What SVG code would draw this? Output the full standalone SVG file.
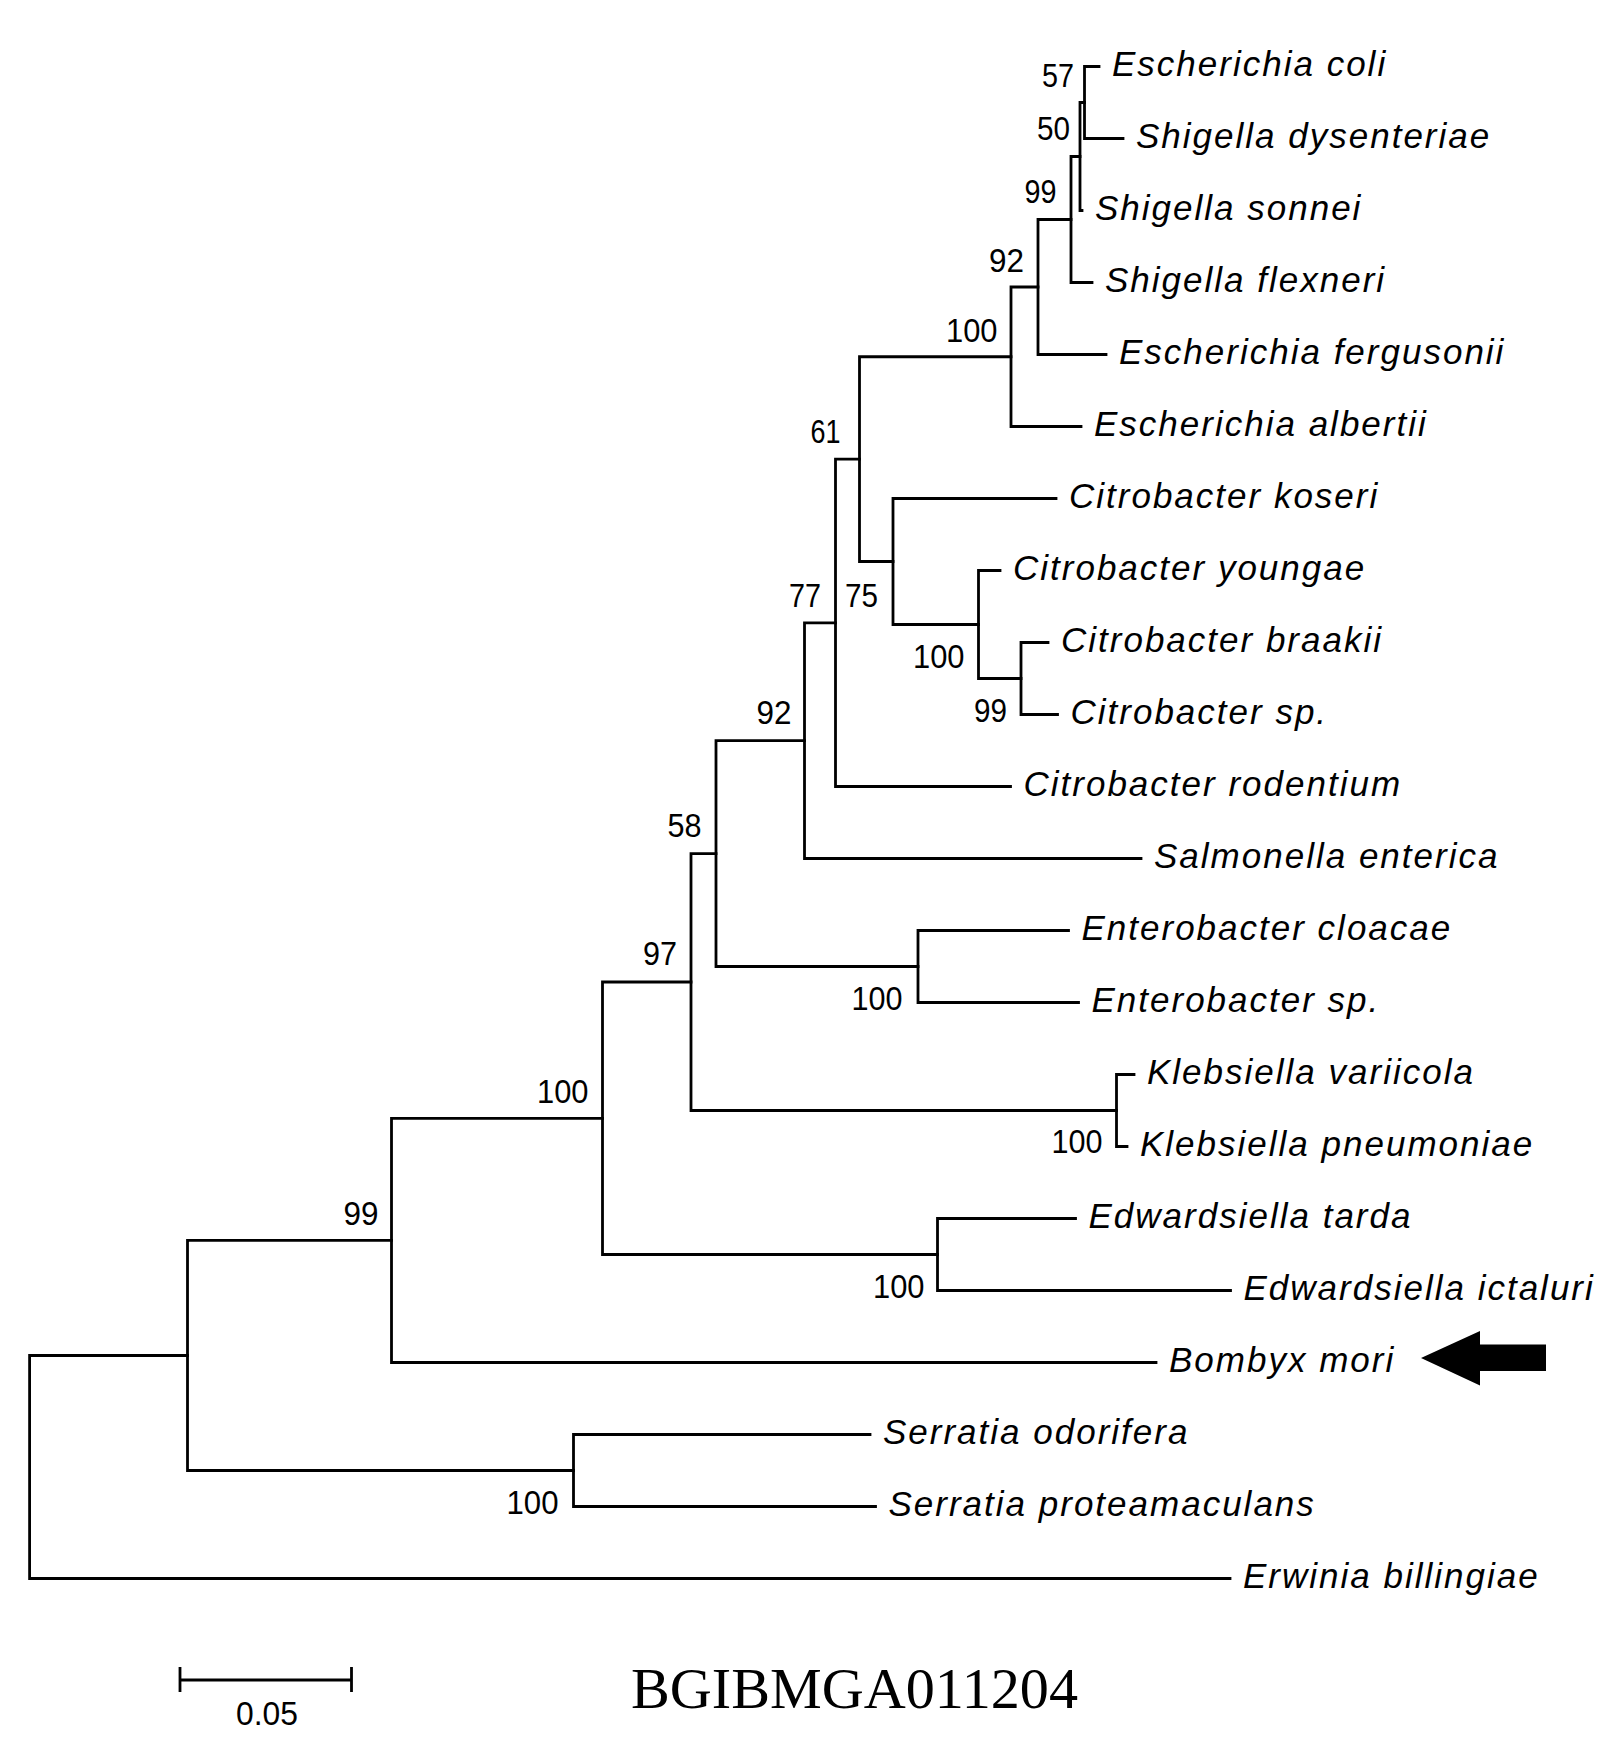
<svg xmlns="http://www.w3.org/2000/svg" width="1615" height="1743" viewBox="0 0 1615 1743">
<style>
.br{fill:none;stroke:#000;stroke-width:2.8;stroke-linecap:square;stroke-linejoin:miter}
.sp{font-family:"Liberation Sans",Arial,sans-serif;font-style:italic;font-size:35px;letter-spacing:2px;fill:#000}
.bs{font-family:"Liberation Sans",Arial,sans-serif;font-size:34px;fill:#000;text-anchor:end}
.ttl{font-family:"Liberation Serif","Times New Roman",serif;font-size:58px;fill:#000}
</style>
<rect width="1615" height="1743" fill="#fff"/>
<g id="connectors">
<path class="br" d="M1099 66.5H1084.5V138.5H1123"/>
<path class="br" d="M1084.5 102.5H1080V210.5H1082"/>
<path class="br" d="M1080 156.5H1071V282.5H1092"/>
<path class="br" d="M1071 219.5H1038V354.5H1106"/>
<path class="br" d="M1038 287H1011V426.5H1081"/>
<path class="br" d="M1048 642.5H1021V714.5H1057.5"/>
<path class="br" d="M1000 570.5H978.5V678.5H1021"/>
<path class="br" d="M1056 498.5H893V624.5H978.5"/>
<path class="br" d="M1011 356.75H859.5V561.5H893"/>
<path class="br" d="M859.5 459.1H835.5V786.5H1010.5"/>
<path class="br" d="M835.5 622.8H804.5V858.5H1141"/>
<path class="br" d="M1068.5 930.5H918V1002.5H1078.5"/>
<path class="br" d="M804.5 740.7H716V966.5H918"/>
<path class="br" d="M1134 1074.5H1116.5V1146.5H1127"/>
<path class="br" d="M716 853.6H691V1110.5H1116.5"/>
<path class="br" d="M1075.5 1218.5H937.5V1290.5H1230.5"/>
<path class="br" d="M691 982H602.5V1254.5H937.5"/>
<path class="br" d="M602.5 1118.3H391.5V1362.5H1156"/>
<path class="br" d="M870 1434.5H573.5V1506.5H875.5"/>
<path class="br" d="M391.5 1240.4H187.5V1470.5H573.5"/>
<path class="br" d="M187.5 1355.5H29.6V1578.5H1230"/>
</g>
<g id="taxa">
<g id="t-ecoli"><text class="sp" x="1112" y="75.5">Escherichia coli</text></g>
<g id="t-sdys"><text class="sp" x="1136" y="147.5">Shigella dysenteriae</text></g>
<g id="t-ssonnei"><text class="sp" x="1095" y="219.5">Shigella sonnei</text></g>
<g id="t-sflex"><text class="sp" x="1105" y="291.5">Shigella flexneri</text></g>
<g id="t-eferg"><text class="sp" x="1119" y="363.5">Escherichia fergusonii</text></g>
<g id="t-ealb"><text class="sp" x="1094" y="435.5">Escherichia albertii</text></g>
<g id="t-ckos"><text class="sp" x="1069" y="507.5">Citrobacter koseri</text></g>
<g id="t-cyoung"><text class="sp" x="1013" y="579.5">Citrobacter youngae</text></g>
<g id="t-cbraak"><text class="sp" x="1061" y="651.5">Citrobacter braakii</text></g>
<g id="t-csp"><text class="sp" x="1070.5" y="723.5">Citrobacter sp.</text></g>
<g id="t-crod"><text class="sp" x="1023.5" y="795.5">Citrobacter rodentium</text></g>
<g id="t-salm"><text class="sp" x="1154" y="867.5">Salmonella enterica</text></g>
<g id="t-eclo"><text class="sp" x="1081.5" y="939.5">Enterobacter cloacae</text></g>
<g id="t-esp"><text class="sp" x="1091.5" y="1011.5">Enterobacter sp.</text></g>
<g id="t-kvar"><text class="sp" x="1147" y="1083.5">Klebsiella variicola</text></g>
<g id="t-kpn"><text class="sp" x="1140" y="1155.5">Klebsiella pneumoniae</text></g>
<g id="t-etar"><text class="sp" x="1088.5" y="1227.5">Edwardsiella tarda</text></g>
<g id="t-eict"><text class="sp" x="1243.5" y="1299.5">Edwardsiella ictaluri</text></g>
<g id="t-bmori"><text class="sp" x="1169" y="1371.5">Bombyx mori</text></g>
<g id="t-sodo"><text class="sp" x="883" y="1443.5">Serratia odorifera</text></g>
<g id="t-spro"><text class="sp" x="888.5" y="1515.5">Serratia proteamaculans</text></g>
<g id="t-erw"><text class="sp" x="1243" y="1587.5">Erwinia billingiae</text></g>
</g>
<g id="bootstrap">
<g id="b-57"><text class="bs" x="1074" y="87" textLength="32" lengthAdjust="spacingAndGlyphs">57</text></g>
<g id="b-50"><text class="bs" x="1070" y="140" textLength="33" lengthAdjust="spacingAndGlyphs">50</text></g>
<g id="b-99a"><text class="bs" x="1056.5" y="203" textLength="32" lengthAdjust="spacingAndGlyphs">99</text></g>
<g id="b-92a"><text class="bs" x="1024" y="272" textLength="35" lengthAdjust="spacingAndGlyphs">92</text></g>
<g id="b-100a"><text class="bs" x="997.5" y="341.5" textLength="51.5" lengthAdjust="spacingAndGlyphs">100</text></g>
<g id="b-61"><text class="bs" x="840.5" y="443" textLength="30" lengthAdjust="spacingAndGlyphs">61</text></g>
<g id="b-77"><text class="bs" x="821" y="606.5" textLength="32" lengthAdjust="spacingAndGlyphs">77</text></g>
<g id="b-75"><text class="bs" x="878" y="606.5" textLength="33" lengthAdjust="spacingAndGlyphs">75</text></g>
<g id="b-100b"><text class="bs" x="964.5" y="668" textLength="51.5" lengthAdjust="spacingAndGlyphs">100</text></g>
<g id="b-99b"><text class="bs" x="1007" y="722" textLength="33" lengthAdjust="spacingAndGlyphs">99</text></g>
<g id="b-92b"><text class="bs" x="791.5" y="724" textLength="35" lengthAdjust="spacingAndGlyphs">92</text></g>
<g id="b-58"><text class="bs" x="701.5" y="836.5" textLength="34" lengthAdjust="spacingAndGlyphs">58</text></g>
<g id="b-97"><text class="bs" x="677" y="965" textLength="34" lengthAdjust="spacingAndGlyphs">97</text></g>
<g id="b-100c"><text class="bs" x="902.5" y="1010" textLength="51" lengthAdjust="spacingAndGlyphs">100</text></g>
<g id="b-100d"><text class="bs" x="1102.5" y="1153" textLength="51" lengthAdjust="spacingAndGlyphs">100</text></g>
<g id="b-100e"><text class="bs" x="588.5" y="1102.5" textLength="51.5" lengthAdjust="spacingAndGlyphs">100</text></g>
<g id="b-99c"><text class="bs" x="378.5" y="1225" textLength="35" lengthAdjust="spacingAndGlyphs">99</text></g>
<g id="b-100f"><text class="bs" x="924.5" y="1298" textLength="51.5" lengthAdjust="spacingAndGlyphs">100</text></g>
<g id="b-100g"><text class="bs" x="558.5" y="1514" textLength="52" lengthAdjust="spacingAndGlyphs">100</text></g>
</g>
<g id="marker-arrow">
<polygon points="1421,1358 1480,1331 1480,1344.5 1546,1344.5 1546,1371 1480,1371 1480,1385.5" fill="#000"/>
</g>
<g id="scale-bar">
<path class="br" d="M180 1680H351.5M180 1667V1692M351.5 1667V1692" style="stroke-linecap:butt"/>
<text class="bs" x="298" y="1725" textLength="62" lengthAdjust="spacingAndGlyphs">0.05</text>
</g>
<g id="title">
<text class="ttl" x="631" y="1708" textLength="447" lengthAdjust="spacingAndGlyphs">BGIBMGA011204</text>
</g>
</svg>
